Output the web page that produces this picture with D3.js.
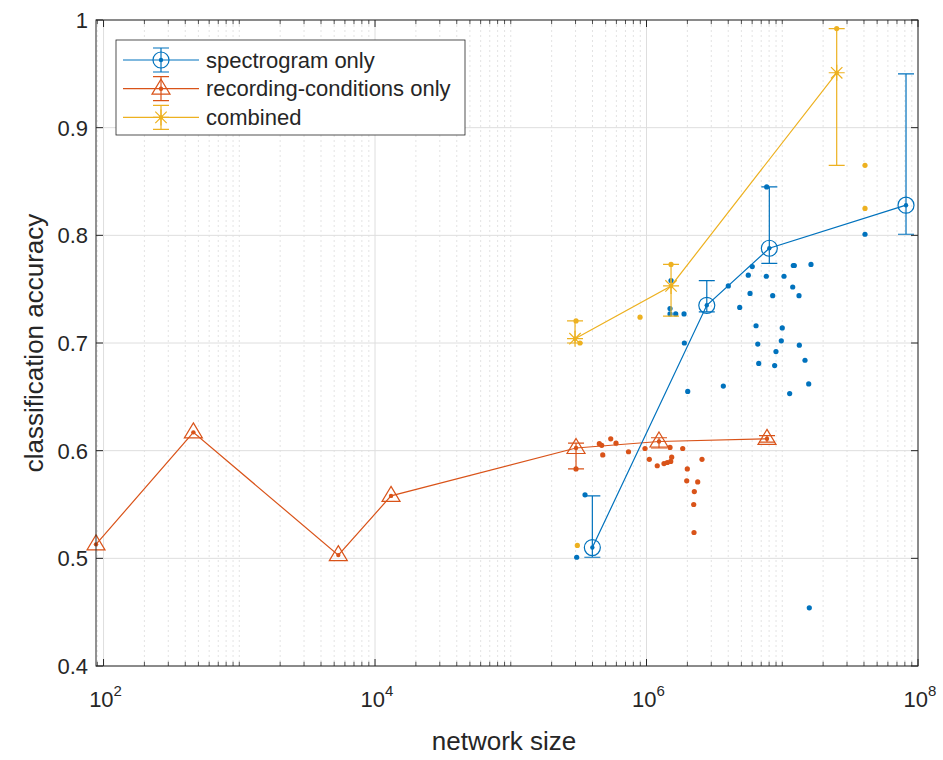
<!DOCTYPE html>
<html>
<head>
<meta charset="utf-8">
<script src="https://cdn.jsdelivr.net/npm/d3@7"></script>
<style>
  body { margin: 0; background: #fff; }
  svg text { font-family: "Liberation Sans", Arial, Helvetica, sans-serif; fill: #262626; }
</style>
</head>
<body>
<svg id="chart" width="943" height="760"></svg>
<script>
// ---- data ----
// spectrogram only (mean, lower, upper)
const specSize = [3.99e5, 2.78e6, 8.03e6, 8.16e7];
const specAcc  = [0.510, 0.735, 0.788, 0.828];
const specLo   = [0.501, 0.729, 0.774, 0.801];
const specHi   = [0.558, 0.758, 0.845, 0.950];

// recording-conditions only
const recSize = [88, 459, 5365, 13120, 3.025e5, 1.236e6, 7.72e6];
const recAcc  = [0.513, 0.617, 0.503, 0.558, 0.6025, 0.6085, 0.611];
const recLo   = [0.513, 0.617, 0.503, 0.558, 0.583, 0.6025, 0.608];
const recHi   = [0.513, 0.617, 0.503, 0.558, 0.607, 0.612, 0.614];

// combined
const combSize = [2.974e5, 1.516e6, 2.518e7];
const combAcc  = [0.704, 0.753, 0.951];
const combLo   = [0.700, 0.725, 0.865];
const combHi   = [0.7205, 0.773, 0.992];

// individual runs
const specDotSize = [6.01e6, 5.62e6, 7.63e6, 1.03e7, 1.206e7, 1.227e7, 1.628e7, 4.005e6, 5.79e6, 8.5e6,
  1.194e7, 1.329e7, 1.49e6, 1.49e6, 1.641e6, 1.89e6, 1.516e6, 4.86e6, 6.41e6, 1.0e7,
  1.9e6, 6.6e6, 9.84e6, 1.336e7, 8.99e6, 1.471e7, 6.71e6, 8.79e6, 3.68e6, 2.012e6,
  1.134e7, 1.566e7, 4.07e7, 1.582e7, 3.06e5, 3.524e5, 7.68e6];
const specDotAcc = [0.771, 0.763, 0.762, 0.762, 0.772, 0.772, 0.773, 0.753, 0.746, 0.744,
  0.752, 0.744, 0.732, 0.727, 0.727, 0.727, 0.758, 0.733, 0.716, 0.714,
  0.700, 0.699, 0.702, 0.698, 0.692, 0.684, 0.681, 0.679, 0.660, 0.655,
  0.653, 0.662, 0.801, 0.454, 0.501, 0.559, 0.845];

const recDotSize = [4.49e5, 4.677e5, 5.45e5, 5.96e5, 4.758e5, 7.37e5, 9.75e5, 1.049e6, 1.2e6, 1.345e6,
  1.423e6, 1.508e6, 1.533e6, 1.49e6, 1.848e6, 1.998e6, 1.978e6, 2.383e6, 2.25e6, 2.227e6,
  2.563e6, 2.238e6, 3.025e5];
const recDotAcc = [0.6065, 0.605, 0.611, 0.607, 0.596, 0.599, 0.602, 0.592, 0.586, 0.588,
  0.589, 0.590, 0.594, 0.603, 0.602, 0.583, 0.572, 0.571, 0.562, 0.550,
  0.592, 0.524, 0.583];

const combDotSize = [8.96e5, 3.093e5, 4.07e7, 4.07e7, 2.518e7, 1.516e6, 3.025e5, 3.236e5];
const combDotAcc  = [0.724, 0.512, 0.865, 0.825, 0.992, 0.773, 0.7205, 0.700];

const yTicks = [0.4, 0.5, 0.6, 0.7, 0.8, 0.9, 1];
const xMajor = [1e2, 1e4, 1e6, 1e8];
const legendLabels = ["spectrogram only", "recording-conditions only", "combined"];

const blue = "#0072BD", orange = "#D95319", yellow = "#EDB120";

// ---- layout ----
const margin = {left: 96, top: 20, right: 25, bottom: 94};
const W = 943, H = 760;
const plotW = W - margin.left - margin.right;   // 822
const plotH = H - margin.top - margin.bottom;   // 646

const svg = d3.select("#chart");
const g = svg.append("g").attr("transform", `translate(${margin.left},${margin.top})`);

const x = d3.scaleLog().domain([88, 1e8]).range([0, plotW]);
const y = d3.scaleLinear().domain([0.4, 1]).range([plotH, 0]);

// minor positions 2..9 x 10^k plus odd decades
let minor = [];
for (let e = 1; e < 8; e++) {
  for (let m = 1; m < 10; m++) {
    const v = m * Math.pow(10, e);
    if (v < 88 || v > 1e8) continue;
    if (xMajor.includes(v)) continue;
    minor.push(v);
  }
}

// grid
g.selectAll(".mgrid").data(minor).join("line")
  .attr("x1", d => x(d)).attr("x2", d => x(d))
  .attr("y1", 0).attr("y2", plotH)
  .attr("stroke", "#dcdcdc").attr("stroke-width", 0.8)
  .attr("stroke-dasharray", "2,3");
g.selectAll(".xgrid").data(xMajor).join("line")
  .attr("x1", d => x(d)).attr("x2", d => x(d))
  .attr("y1", 0).attr("y2", plotH)
  .attr("stroke", "#dedede").attr("stroke-width", 1);
g.selectAll(".ygrid").data(yTicks).join("line")
  .attr("x1", 0).attr("x2", plotW)
  .attr("y1", d => y(d)).attr("y2", d => y(d))
  .attr("stroke", "#dedede").attr("stroke-width", 1);

// scatter of individual runs
function dots(sz, acc, col) {
  g.append("g").selectAll("circle").data(sz).join("circle")
    .attr("cx", d => x(d)).attr("cy", (d, i) => y(acc[i]))
    .attr("r", 2.6).attr("fill", col);
}
dots(recDotSize, recDotAcc, orange);
dots(combDotSize, combDotAcc, yellow);
dots(specDotSize, specDotAcc, blue);

// marker shapes
function marker(sel, kind, col) {
  if (kind === "circle") {
    sel.append("circle").attr("r", 8).attr("fill", "none").attr("stroke", col).attr("stroke-width", 1.2);
  } else if (kind === "tri") {
    sel.append("path").attr("d", "M0,-9.5L9,5.5L-9,5.5Z")
      .attr("fill", "none").attr("stroke", col).attr("stroke-width", 1.2);
  } else {
    sel.append("path").attr("d", "M0,-8V8M-8,0H8M-5.7,-5.7L5.7,5.7M-5.7,5.7L5.7,-5.7")
      .attr("fill", "none").attr("stroke", col).attr("stroke-width", 1.2);
  }
  sel.append("circle").attr("r", 2.2).attr("fill", col);
}

function series(sz, acc, lo, hi, col, kind) {
  const s = g.append("g");
  const pts = sz.map((d, i) => [x(d), y(acc[i])]);
  s.append("path").attr("d", d3.line()(pts))
    .attr("fill", "none").attr("stroke", col).attr("stroke-width", 1.2);
  sz.forEach((d, i) => {
    if (hi[i] - lo[i] <= 0) return;
    const cx = x(d);
    s.append("path")
      .attr("d", `M${cx},${y(lo[i])}V${y(hi[i])}M${cx - 8},${y(lo[i])}H${cx + 8}M${cx - 8},${y(hi[i])}H${cx + 8}`)
      .attr("fill", "none").attr("stroke", col).attr("stroke-width", 1.2);
  });
  sz.forEach((d, i) => {
    marker(s.append("g").attr("transform", `translate(${x(d)},${y(acc[i])})`), kind, col);
  });
}
series(recSize, recAcc, recLo, recHi, orange, "tri");
series(combSize, combAcc, combLo, combHi, yellow, "star");
series(specSize, specAcc, specLo, specHi, blue, "circle");

// axes box
const axCol = "#262626";
g.append("rect").attr("width", plotW).attr("height", plotH)
  .attr("fill", "none").attr("stroke", axCol).attr("stroke-width", 1);

// ticks
const tl = 7;
g.selectAll(".xtk").data(minor).join("path")
  .attr("d", d => `M${x(d)},${plotH}v${-tl * 0.6}M${x(d)},0v${tl * 0.6}`)
  .attr("stroke", axCol).attr("stroke-width", 0.8);
g.selectAll(".xtM").data(xMajor).join("path")
  .attr("d", d => `M${x(d)},${plotH}v${-tl}M${x(d)},0v${tl}`)
  .attr("stroke", axCol).attr("stroke-width", 1);
g.selectAll(".ytk").data(yTicks).join("path")
  .attr("d", d => `M0,${y(d)}h${tl}M${plotW},${y(d)}h${-tl}`)
  .attr("stroke", axCol).attr("stroke-width", 1);

// tick labels
g.selectAll(".ylab").data(yTicks).join("text")
  .attr("x", -8).attr("y", d => y(d) + 8)
  .attr("text-anchor", "end").style("font-size", "22px")
  .text(d => d3.format("")(d));

const xl = g.selectAll(".xlab").data(xMajor).join("text")
  .attr("x", d => x(d) + 2).attr("y", plotH + 41)
  .attr("text-anchor", "middle").style("font-size", "22px");
xl.append("tspan").text("10");
xl.append("tspan").attr("dy", -11).style("font-size", "15px")
  .text(d => Math.round(Math.log10(d)));

// axis titles
svg.append("text")
  .attr("x", margin.left + plotW / 2 - 3).attr("y", 750)
  .attr("text-anchor", "middle").style("font-size", "26px")
  .text("network size");
svg.append("text")
  .attr("transform", `translate(43,${margin.top + plotH / 2}) rotate(-90)`)
  .attr("text-anchor", "middle").style("font-size", "26px")
  .text("classification accuracy");

// legend
const leg = svg.append("g").attr("transform", "translate(116,40)");
leg.append("rect").attr("width", 349).attr("height", 95)
  .attr("fill", "#fff").attr("stroke", axCol).attr("stroke-width", 0.8);
const legCols = [blue, orange, yellow];
const legKinds = ["circle", "tri", "star"];
legendLabels.forEach((lab, i) => {
  const ly = 20 + i * 28.7;
  const it = leg.append("g").attr("transform", `translate(0,${ly})`);
  it.append("path").attr("d", "M7,0H83M45,-12V12M37,-12H53M37,12H53")
    .attr("fill", "none").attr("stroke", legCols[i]).attr("stroke-width", 1.2);
  marker(it.append("g").attr("transform", "translate(45,0)"), legKinds[i], legCols[i]);
  it.append("text").attr("x", 90).attr("y", 7.5).style("font-size", "22px").text(lab);
});
</script>
</body>
</html>
